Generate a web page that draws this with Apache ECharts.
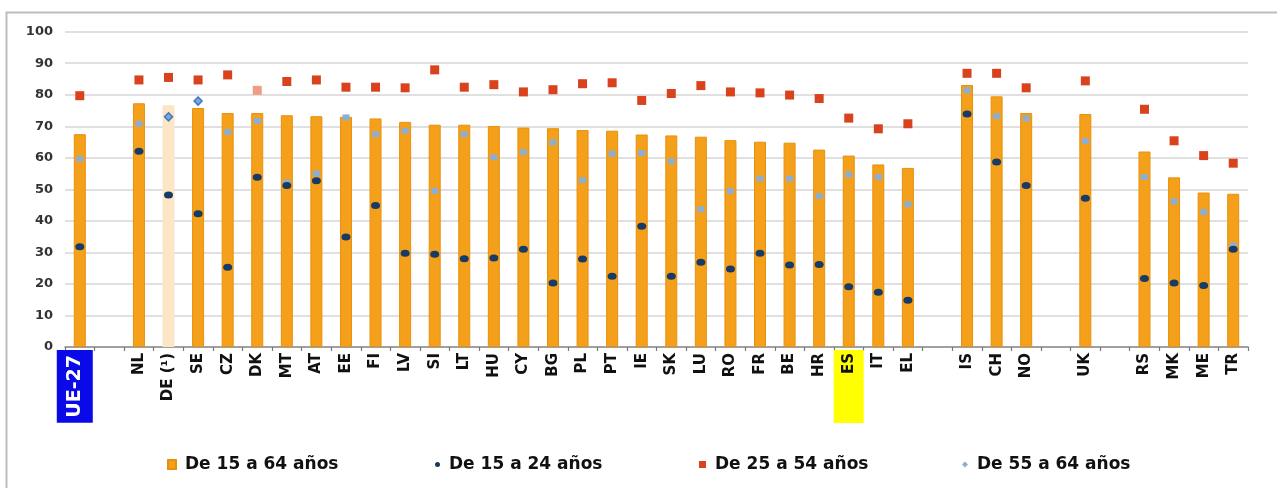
<!DOCTYPE html>
<html>
<head>
<meta charset="utf-8">
<script src="https://cdn.jsdelivr.net/npm/echarts@6/dist/echarts.min.js"></script>
<style>
html,body{margin:0;padding:0;background:#fff;}
#chart{width:1277px;height:488px;}
</style>
</head>
<body>
<div id="chart"></div>
<script>
// Categories (blank entries are the gaps between country groups)
var categories = ['UE-27', ' ', 'NL', 'DE (¹)', 'SE', 'CZ', 'DK', 'MT', 'AT', 'EE', 'FI', 'LV', 'SI', 'LT', 'HU', 'CY', 'BG', 'PL', 'PT', 'IE', 'SK', 'LU', 'RO', 'FR', 'BE', 'HR', 'ES', 'IT', 'EL', '  ', 'IS', 'CH', 'NO', '   ', 'UK', '    ', 'RS', 'MK', 'ME', 'TR'];

var age15to64 = [67.5, null, 77.3, 76.7, 75.8, 74.2, 74.2, 73.5, 73.2, 73.0, 72.5, 71.4, 70.5, 70.5, 70.1, 69.6, 69.4, 68.8, 68.6, 67.4, 67.1, 66.7, 65.6, 65.1, 64.8, 62.6, 60.7, 57.9, 56.8, null, 83.1, 79.5, 74.2, null, 73.9, null, 62.0, 53.8, 49.0, 48.6];
var age15to24 = [31.8, null, 62.1, 48.2, 42.3, 25.3, 53.8, 51.2, 52.7, 34.9, 44.9, 29.7, 29.4, 28.0, 28.2, 31.0, 20.3, 27.9, 22.4, 38.3, 22.4, 26.9, 24.7, 29.7, 26.0, 26.2, 19.1, 17.4, 14.8, null, 73.9, 58.7, 51.2, null, 47.2, null, 21.7, 20.3, 19.5, 31.0];
var age25to54 = [79.7, null, 84.7, 85.5, 84.7, 86.3, 81.4, 84.2, 84.7, 82.4, 82.4, 82.2, 87.9, 82.4, 83.2, 80.9, 81.6, 83.5, 83.8, 78.2, 80.4, 82.9, 80.9, 80.6, 79.9, 78.8, 72.6, 69.2, 70.8, null, 86.8, 86.8, 82.2, null, 84.4, null, 75.4, 65.4, 60.7, 58.3];
var age55to64 = [59.7, null, 70.8, 73.0, 78.0, 68.2, 71.7, 52.2, 55.0, 72.8, 67.5, 68.6, 49.5, 67.5, 60.2, 61.8, 64.9, 52.9, 61.3, 61.5, 58.9, 43.7, 49.5, 53.4, 53.4, 47.9, 54.7, 53.9, 45.3, null, 81.4, 73.2, 72.5, null, 65.3, null, 53.9, 46.2, 42.8, 32.2];

var yTicks = [0, 10, 20, 30, 40, 50, 60, 70, 80, 90, 100];
var seriesNames = ['De 15 a 64 años', 'De 15 a 24 años', 'De 25 a 54 años', 'De 55 a 64 años'];

var FONT = 'DejaVu Sans';
var ORANGE = '#F5A01A';
var NAVY = '#173A66';
var RED = '#D8421C';
var LIGHT = '#8DAED3';

var barData = age15to64.map(function (v, i) {
  if (categories[i] === 'DE (¹)') {
    return { value: v, itemStyle: { color: '#FCE6C6', borderColor: '#FCE6C6' } };
  }
  return v;
});
var redData = age25to54.map(function (v, i) {
  if (categories[i] === 'DK') {
    return { value: v, itemStyle: { color: '#EE9D86' } };
  }
  return v;
});
var lightData = age55to64.map(function (v, i) {
  if (categories[i] === 'DE (¹)' || categories[i] === 'SE') {
    return { value: v, symbol: 'diamond', symbolSize: 8, itemStyle: { color: '#7FA7DA', borderColor: '#3F78C0', borderWidth: 1.5 } };
  }
  return v;
});

var chart = echarts.init(document.getElementById('chart'), null, { renderer: 'canvas' });

function legendItem(name, left, icon, w, h, color) {
  return {
    data: [{ name: name, icon: icon, itemStyle: { color: color, opacity: 1 } }],
    left: left,
    top: 451,
    itemWidth: w,
    itemHeight: h,
    selectedMode: false,
    textStyle: { fontFamily: FONT, fontWeight: 'bold', fontSize: 17, color: '#111', padding: [0, 0, 0, 4] }
  };
}

chart.setOption({
  animation: false,
  backgroundColor: '#fff',
  graphic: [{
    type: 'rect',
    shape: { x: 6.5, y: 12.5, width: 1300, height: 500 },
    style: { fill: 'none', stroke: '#BDBDBD', lineWidth: 2 },
    silent: true,
    z: -10
  }],
  legend: [
    legendItem(seriesNames[0], 162, 'rect', 8, 9, ORANGE),
    legendItem(seriesNames[1], 430, 'circle', 5, 5, NAVY),
    legendItem(seriesNames[2], 694, 'rect', 7, 7, RED),
    legendItem(seriesNames[3], 957, 'diamond', 6, 6, LIGHT)
  ],
  grid: { left: 65, right: 29, top: 31.7, bottom: 141, containLabel: false },
  xAxis: {
    type: 'category',
    data: categories,
    boundaryGap: true,
    axisLine: { show: true, lineStyle: { color: '#8A8A8A', width: 1.5 } },
    axisTick: { show: true, length: 4, lineStyle: { color: '#777', width: 1.2 } },
    axisLabel: {
      interval: 0,
      rotate: 90,
      margin: 3,
      formatter: function (v) {
        if (v === 'UE-27') return '{eu|' + v + '}\n{sp|}';
        if (v === 'ES') return '{es|' + v + '}';
        if (v.trim() === '') return '';
        return '{n|' + v + '}';
      },
      rich: {
        n: { fontFamily: FONT, fontWeight: 'bold', fontSize: 15, color: '#111', padding: [0, 3, 0, 0] },
        eu: { fontFamily: FONT, fontWeight: 'bold', fontSize: 19, color: '#fff', backgroundColor: '#0A0AE8', height: 30, lineHeight: 30, padding: [3, 5, 3, 5] },
        sp: { height: 10, lineHeight: 10, fontSize: 1 },
        es: { fontFamily: FONT, fontWeight: 'bold', fontSize: 15, color: '#111', backgroundColor: '#FFFF00', height: 30, lineHeight: 30, padding: [0, 3, 0, 49] }
      }
    }
  },
  yAxis: {
    type: 'value',
    min: yTicks[0],
    max: yTicks[yTicks.length - 1],
    interval: 10,
    axisLine: { show: false },
    axisTick: { show: false },
    axisLabel: { margin: 12, fontFamily: FONT, fontWeight: 'bold', fontSize: 13, color: '#333' },
    splitLine: { show: true, lineStyle: { color: '#E0E0E0', width: 2 } }
  },
  series: [
    {
      name: seriesNames[0],
      type: 'bar',
      data: barData,
      barWidth: 12,
      itemStyle: { color: ORANGE, borderColor: '#E8900C', borderWidth: 1 },
      z: 2
    },
    {
      name: seriesNames[3],
      type: 'scatter',
      data: lightData,
      symbol: 'rect',
      symbolSize: [7, 6],
      itemStyle: { color: LIGHT, opacity: 1 },
      z: 3
    },
    {
      name: seriesNames[2],
      type: 'scatter',
      data: redData,
      symbol: 'rect',
      symbolSize: 9,
      itemStyle: { color: RED, opacity: 1 },
      z: 4
    },
    {
      name: seriesNames[1],
      type: 'scatter',
      data: age15to24,
      symbol: 'circle',
      symbolSize: [9, 7],
      itemStyle: { color: NAVY, opacity: 1 },
      z: 5
    }
  ]
});
</script>
</body>
</html>
